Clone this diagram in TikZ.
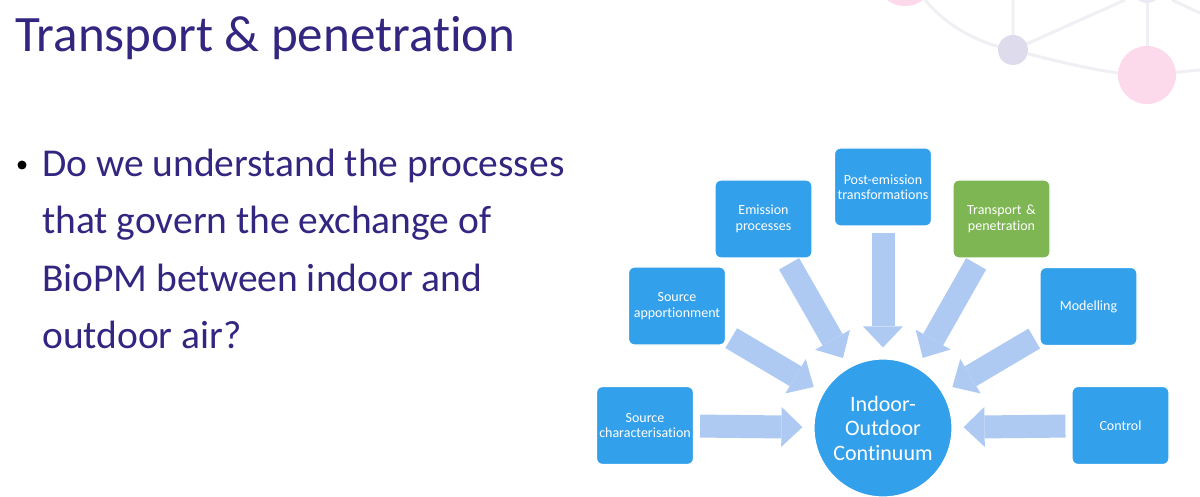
\documentclass[tikz,border=0pt]{standalone}
\usepackage{fontspec}
\setmainfont[Ligatures=NoCommon]{Carlito}
\usepackage{tikz}
\usetikzlibrary{positioning}
\usetikzlibrary{arrows.meta}
\definecolor{boxblue}{RGB}{51,160,235}
\definecolor{boxgreen}{RGB}{126,182,84}
\definecolor{arrowblue}{RGB}{174,202,242}
\definecolor{slidepurple}{RGB}{50,38,128}
\definecolor{decogray}{RGB}{240,240,244}
\definecolor{decolav}{RGB}{222,220,236}
\definecolor{decopink}{RGB}{252,218,236}
\tikzstyle{topic}=[rectangle,rounded corners=6pt,fill=boxblue,draw=white,line width=1.2pt,minimum width=97pt,minimum height=78pt,text width=94pt,align=center,text=white,inner sep=0pt,font=\fontsize{14}{15.5}\selectfont]
\tikzstyle{hub}=[circle,fill=boxblue,draw=white,line width=1.2pt,minimum size=138pt,inner sep=0pt,align=center,text=white,font=\fontsize{22}{24.5}\selectfont]
\tikzstyle{feed} = [draw=arrowblue,line width=23pt,-{Triangle[width=40pt,length=21pt,line width=0pt]},shorten <=6pt,shorten >=11pt]
\tikzstyle{question} = [text=slidepurple,inner sep=0pt,font=\fontsize{39.5}{55}\selectfont]
\tikzstyle{deco} = [draw=decogray,line width=3pt]

\begin{document}
\begin{tikzpicture}[x=1pt,y=-1pt]
    \useasboundingbox[fill=white] (0,0) rectangle (1200,497);

    % background network in the corner
    \begin{scope}
    \clip (0,0) rectangle (1200,497);
    \draw[deco] (925,0) .. controls (950,30) and (985,45) .. (1013,50) .. controls (1060,62) and (1110,75) .. (1147,75) -- (1200,70);
    \draw[deco] (1013,0) -- (1013,50) -- (1125,0);
    \draw[deco] (1147,0) -- (1147,75);
    \draw[deco] (1172,0) -- (1200,13);
    \fill[decolav] (1013,50) circle (15);
    \fill[decopink] (1147,75) circle (29);
    \fill[decopink] (905,-24) circle (30);
    \fill[decolav!60] (1147,-12) circle (15);
    \end{scope}

    % slide text
    \node[text=slidepurple,inner sep=0pt,anchor=base west,font=\fontsize{51}{60}\selectfont] (title) at (15,52) {Transport \& penetration};
    \node[circle,fill=black,inner sep=0pt,minimum size=9pt] (dot) at (22,165) {};
    \foreach \y/\name/\words in {177/qa/Do we understand the processes, 234/qb/that govern the exchange of, 291/qc/BioPM between indoor and, 348/qd/outdoor air?}
        \node[question,anchor=base west] (\name) at (42,\y) {\words};

    % diagram
    \node[hub] (io) at (883,428) {Indoor-\\Outdoor\\Continuum};

    \foreach \pos/\name/\words in {{(645,425.5)/srcchar/{Source\\characterisation}}, {(677,306)/srcapp/{Source\\apportionment}}, {(763.5,219)/emis/{Emission\\processes}}, {(883,187)/postem/{Post-emission\\transformations}}, {(1088.5,306.5)/model/Modelling}, {(1120.5,425.5)/ctrl/Control}}
        \node[topic] (\name) at \pos {\words};

    \node[topic,fill=boxgreen] (transp) at (1001.5,219) {Transport \&\\penetration};

    \foreach \source in {srcchar, srcapp, emis, postem, transp, model, ctrl}
        \path[feed] (\source) -- (io);

\end{tikzpicture}
\end{document}
